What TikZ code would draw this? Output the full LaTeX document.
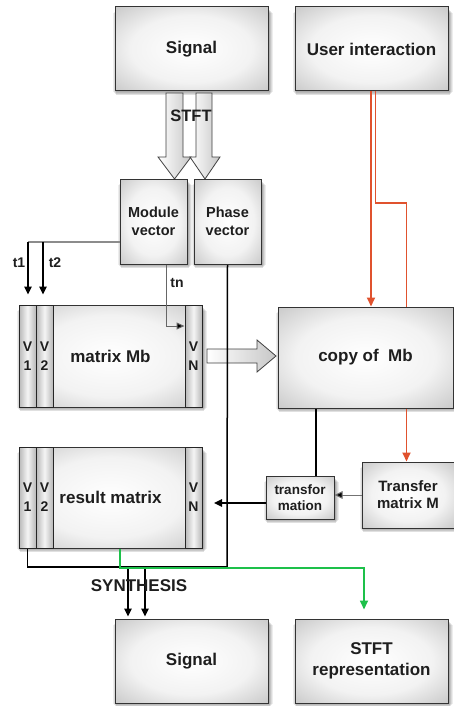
\documentclass[tikz,border=0pt]{standalone}
\usepackage{fontspec}
\setmainfont{Liberation Sans}
\usetikzlibrary{arrows.meta,calc}
\pgfdeclarelayer{bg}
\pgfdeclarelayer{shadow}
\pgfsetlayers{shadow,bg,main}
\definecolor{redc}{HTML}{E0522E}
\definecolor{greenc}{HTML}{1DC04A}
\definecolor{txt}{HTML}{1E1E1E}
\pgfdeclareradialshading{boxshade}{\pgfpointorigin}{color(0bp)=(white); color(20bp)=(white!95!black); color(50bp)=(black!36); color(75bp)=(black!42)}
\tikzset{
  box/.style={draw=black!80, line width=1pt, shading=boxshade,
    text=txt, align=center, inner sep=0pt},
  bigtext/.style={font=\bfseries\fontsize{17}{21}\selectfont},
  smalltext/.style={font=\bfseries\fontsize{14.5}{18}\selectfont},
  col/.style={draw=black!85, line width=1pt, left color=black!28, right color=black!28, middle color=black!4,
    minimum width=17pt, inner sep=0pt, align=center, text=txt, font=\bfseries\fontsize{14}{19}\selectfont},
  fat/.style={draw=black!75, line width=0.8pt, left color=white, right color=black!22},
  conn/.style={draw=black, line width=1.5pt},
  arr/.style={conn, -{Triangle[length=8pt,width=7.5pt]}},
  redarr/.style={draw=redc, line width=1.8pt, -{Triangle[length=9pt,width=8pt]}},
  greenarr/.style={draw=greenc, line width=1.7pt, -{Triangle[length=9pt,width=8pt]}},
  lbl/.style={text=txt, inner sep=0pt, font=\bfseries\fontsize{14}{16}\selectfont}
}
\begin{document}
\begin{tikzpicture}[x=1pt,y=-1pt]
\useasboundingbox (0,0) rectangle (454,706);

% boxes
\node[box, bigtext, minimum width=153pt, minimum height=84pt] (sigtop) at (191.5,49) {Signal};
\node[box, bigtext, minimum width=153pt, minimum height=84pt] (user) at (371.5,49) {User interaction};
\node[box, smalltext, minimum width=67pt, minimum height=85pt] (modv) at (153.5,221.5) {Module\\vector};
\node[box, smalltext, minimum width=67pt, minimum height=85pt] (phasev) at (227.5,221.5) {Phase\\vector};

\node[box, bigtext, minimum width=183pt, minimum height=102pt] (mb) at (110.5,356) {matrix Mb};
\node[col, minimum height=102pt] (mbv1) at (27.5,356) {V\\1};
\node[col, minimum height=102pt] (mbv2) at (44.5,356) {V\\2};
\node[col, minimum height=102pt] (mbvn) at (193.5,356) {V\\N};

\node[box, bigtext, minimum width=175pt, minimum height=101pt] (copy) at (365.5,357.5) {copy of\ \ Mb};

\node[box, font=\bfseries\fontsize{13.5}{16}\selectfont, minimum width=68pt, minimum height=43pt] (trans) at (300,497.5) {transfor\\mation};
\node[box, font=\bfseries\fontsize{15}{17}\selectfont, minimum width=92pt, minimum height=66pt] (transM) at (408,495) {Transfer\\matrix M};

\node[box, bigtext, minimum width=183pt, minimum height=101pt] (result) at (110.5,497.5) {result matrix};
\node[col, minimum height=101pt] (rv1) at (27.5,497.5) {V\\1};
\node[col, minimum height=101pt] (rv2) at (44.5,497.5) {V\\2};
\node[col, minimum height=101pt] (rvn) at (193.5,497.5) {V\\N};

\node[box, bigtext, minimum width=153pt, minimum height=84pt] (sigbot) at (191.5,661) {Signal};
\node[box, bigtext, minimum width=153pt, minimum height=84pt] (stftrep) at (371.5,661) {STFT\\representation};

% shadows
\begin{pgfonlayer}{shadow}
  \foreach \n in {sigtop,user,modv,phasev,mb,copy,trans,transM,result,sigbot,stftrep}{
    \foreach \g/\o in {3/0.07,2/0.08,1/0.1,0/0.12}{
      \fill[black, opacity=\o] ([xshift=1.5pt-\g pt, yshift=-3.5pt+\g pt]\n.south west) rectangle ([xshift=1.5pt+\g pt, yshift=-3.5pt-\g pt]\n.north east);
    }
  }
\end{pgfonlayer}

% coordinates
\coordinate (t1top) at (28,242);
\coordinate (t2top) at (43,242);
\coordinate (tnc) at (166,326);
\coordinate (bus) at (227,567);
\coordinate (s1) at (128,567);
\coordinate (s2) at (145,567);
\coordinate (gx) at (120,568);
\coordinate (gend) at (364,568);
\coordinate (r2a) at (375.5,91);
\coordinate (r2b) at (375.5,203);
\coordinate (r2c) at (406.5,203);
\coordinate (cx) at (316,408);
\coordinate (tyc) at (214,503);

\begin{pgfonlayer}{bg}
  % STFT fat arrows
  \path[fat] (166,93) -- (166,157) -- (158,157) -- (174.5,179) -- (191,157) -- (183,157) -- (183,93) -- cycle;
  \path[fat] (196,93) -- (196,157) -- (190,157) -- (205,179) -- (220,157) -- (212,157) -- (212,93) -- cycle;
  % Mb -> copy fat arrow
  \path[fat] (207,349) -- (257,349) -- (257,340) -- (276,356) -- (257,372) -- (257,363) -- (207,363) -- cycle;

  % t1, t2
  \draw[draw=black!45, line width=2pt] (modv.west |- t1top) -- (t1top);
  \draw[arr] (t1top) -- ([yshift=10pt]t1top |- mb.north);
  \draw[arr] (t2top) -- ([yshift=10pt]t2top |- mb.north);

  % phase vector line and synthesis bus
  \draw[conn] (phasev.south) -- (bus);
  \draw[conn] (rv1.south) -- (rv1.south |- bus) -- (bus);
  \draw[arr] (s1) -- ([yshift=2pt]s1 |- sigbot.north);
  \draw[arr] (s2) -- ([yshift=2pt]s2 |- sigbot.north);
  % green
  \draw[greenarr] (result.south -| gx) -- (gx) -- (gend) -- ([yshift=9pt]gend |- stftrep.north);

  % red
  \draw[redarr] ([xshift=-0.5pt]user.south) -- ([xshift=-0.5pt]user.south |- copy.north);
  \draw[redarr] (r2a) -- (r2b) -- (r2c) -- (r2c |- transM.north);

  % copy -> transformation
  \draw[conn] (cx |- copy.south) -- (cx |- trans.north);
  % transfer matrix -> transformation
  \draw[draw=black!55, line width=1pt, -{Triangle[length=8pt,width=7.5pt,fill=black]}] (transM.west) -- (trans.east |- transM.west);
  % transformation -> result
  \draw[arr] (trans.west |- tyc) -- (tyc);
\end{pgfonlayer}

% tn (drawn over the matrix)
\draw[draw=black!60, line width=1pt, -{Triangle[length=8pt,width=7pt,fill=black]}] (tnc |- modv.south) -- (tnc) -- (mbvn.west |- tnc);

% labels
\node[text=txt, inner sep=0pt, font=\bfseries\fontsize{16.5}{18}\selectfont] (stftlbl) at (191,116) {STFT};
\node[lbl] (t1lbl) at (19,263) {t1};
\node[lbl] (t2lbl) at (55,263) {t2};
\node[lbl] (tnlbl) at (177,283) {tn};
\node[text=txt, inner sep=0pt, font=\bfseries\fontsize{17}{19}\selectfont] (synth) at (139,586) {SYNTHESIS};
\end{tikzpicture}
\end{document}
